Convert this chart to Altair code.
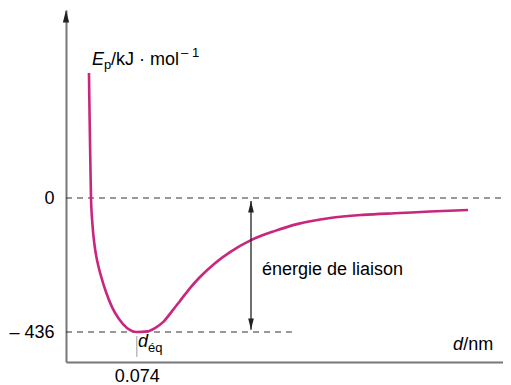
import altair as alt
import pandas as pd

# Potential energy curve of H2
d_nm = [0.0240, 0.0247, 0.0254, 0.0261, 0.0277, 0.0298, 0.0324, 0.0366, 0.0418,
        0.0481, 0.0554, 0.0637, 0.0740, 0.0846, 0.0930, 0.1014, 0.1108, 0.1191,
        0.1296, 0.1400, 0.1557, 0.1714, 0.1933, 0.2184, 0.2414, 0.2759, 0.3103,
        0.3490, 0.3804, 0.4201]
ep_kj = [407, 254, 124, 3, -88, -153, -202, -254, -306,
         -355, -394, -423, -436, -434, -423, -404, -368, -335,
         -293, -257, -212, -176, -137, -107, -85, -65, -55,
         -49, -44, -39]

D_EQ = 0.074
E_LIAISON = -436
X_MAX = 0.4566
Y_MIN, Y_MAX = -533.6, 611.7

FONT = "Liberation Sans"
CURVE_COLOR = "#c9267d"

xs = alt.Scale(domain=[0, X_MAX], nice=False, zero=False)
ys = alt.Scale(domain=[Y_MIN, Y_MAX], nice=False, zero=False)

x_axis = alt.Axis(values=[D_EQ], labelExpr="'0.074'", ticks=False, grid=False,
                  title=None, domainColor="#777", domainWidth=2,
                  labelFontSize=18, labelFont=FONT, labelColor="black",
                  labelPadding=5, labelFlush=False)
y_axis = alt.Axis(values=[0, E_LIAISON],
                  labelExpr="datum.value == 0 ? '0' : '– 436'",
                  ticks=False, grid=False, title=None, domainColor="#777",
                  domainWidth=2, labelFontSize=18, labelFont=FONT,
                  labelColor="black", labelPadding=12)


def X(f="x"):
    return alt.X(f"{f}:Q", scale=xs, axis=x_axis)


def Y(f="y"):
    return alt.Y(f"{f}:Q", scale=ys, axis=y_axis)


curve_df = pd.DataFrame({"x": d_nm, "y": ep_kj})

dash_df = pd.DataFrame({"x": [0, 0], "x2": [X_MAX, 0.236], "y": [0, E_LIAISON]})
dashes = alt.Chart(dash_df).mark_rule(color="#333", strokeWidth=1.2,
                                      strokeDash=[6, 5]).encode(
    x=X(), x2="x2:Q", y=Y())

curve = alt.Chart(curve_df).mark_line(color=CURVE_COLOR, strokeWidth=2.6,
                                      interpolate="monotone").encode(
    x=X(), y=Y())

ARROW_X = 0.1933
arr_df = pd.DataFrame({"x": [ARROW_X], "y": [-10], "y2": [-429]})
arrow_line = alt.Chart(arr_df).mark_rule(color="#222", strokeWidth=1.3).encode(
    x=X(), y=Y(), y2="y2:Q")

UP = "M0,0L0.6,2.4L-0.6,2.4Z"
DOWN = "M0,0L0.6,-2.4L-0.6,-2.4Z"
up_df = pd.DataFrame({"x": [ARROW_X], "y": [-10]})
down_df = pd.DataFrame({"x": [ARROW_X], "y": [-429]})
axis_up_df = pd.DataFrame({"x": [0], "y": [Y_MAX]})

head_up = alt.Chart(up_df).mark_point(shape=UP, filled=True, size=90,
                                      color="#222", opacity=1, strokeWidth=0).encode(
    x=X(), y=Y())
head_down = alt.Chart(down_df).mark_point(shape=DOWN, filled=True, size=90,
                                          color="#222", opacity=1, strokeWidth=0).encode(
    x=X(), y=Y())
axis_head = alt.Chart(axis_up_df).mark_point(shape=UP, filled=True, size=110,
                                             color="#222", opacity=1, strokeWidth=0).encode(
    x=X(), y=Y())

tick_df = pd.DataFrame({"x": [D_EQ], "y": [-449], "y2": [-517]})
deq_tick = alt.Chart(tick_df).mark_rule(color="#999", strokeWidth=1).encode(
    x=X(), y=Y(), y2="y2:Q")

it18_df = pd.DataFrame({"x": [0.0272, 0.0752, 0.4044],
                        "y": [432.7, -484.8, -494.6],
                        "t": ["E", "d", "d"]})
rg18_df = pd.DataFrame({"x": [0.0470, 0.2048, 0.4150],
                        "y": [432.7, -250.5, -494.6],
                        "t": ["/kJ · mol", "énergie de liaison", "/nm"]})
rg13_df = pd.DataFrame({"x": [0.0397, 0.1202, 0.0857],
                        "y": [419.7, 458.8, -501],
                        "t": ["p", "– 1", "éq"]})


def texts(df, size, style):
    return alt.Chart(df).mark_text(align="left", baseline="alphabetic",
                                   fontSize=size, font=FONT, fontStyle=style,
                                   color="black").encode(
        x=X(), y=Y(), text="t:N")


chart = alt.layer(
    dashes, deq_tick, curve, arrow_line, head_up, head_down, axis_head,
    texts(it18_df, 18, "italic"), texts(rg18_df, 18, "normal"),
    texts(rg13_df, 13, "normal"),
).properties(
    width=437, height=352,
    autosize=alt.AutoSizeParams(type="none"),
    padding={"left": 58, "top": 2, "right": 0, "bottom": 22},
).configure_view(strokeWidth=0)

chart.save("out.html", embed_options={"renderer": "svg", "actions": False})
